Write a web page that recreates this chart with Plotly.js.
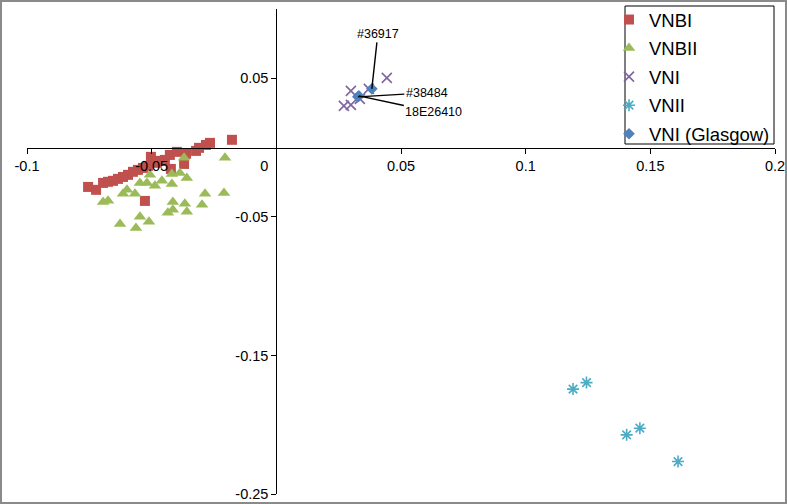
<!DOCTYPE html>
<html>
<head>
<meta charset="utf-8">
<script src="https://cdn.plot.ly/plotly-3.0.1.min.js"></script>
<style>
  html, body { margin: 0; padding: 0; background: #fff; }
  #chart { width: 787px; height: 504px; }
</style>
</head>
<body>
<div id="chart"></div>
<script>
// ---- Data ----
const vnbiX = [-0.0755, -0.0723, -0.0695, -0.0675, -0.0655, -0.0635, -0.0615, -0.0595, -0.0575, -0.0555, -0.0535, -0.0515, -0.0503, -0.0479, -0.0467, -0.0447, -0.0427, -0.0423, -0.0399, -0.0370, -0.0362, -0.0322, -0.0310, -0.0282, -0.0266, -0.0178, -0.0527];
const vnbiY = [-0.0284, -0.0305, -0.0255, -0.0247, -0.0240, -0.0226, -0.0212, -0.0197, -0.0175, -0.0161, -0.0147, -0.0132, -0.0067, -0.0110, -0.0096, -0.0089, -0.0053, -0.0154, -0.0031, -0.0118, -0.0045, -0.0024, -0.0002, 0.0019, 0.0034, 0.0056, -0.0385];

const vnbiiX = [-0.0370, -0.0206, -0.0507, -0.0419, -0.0387, -0.0359, -0.0547, -0.0519, -0.0487, -0.0459, -0.0419, -0.0599, -0.0615, -0.0567, -0.0675, -0.0695, -0.0415, -0.0367, -0.0286, -0.0298, -0.0210, -0.0415, -0.0435, -0.0359, -0.0547, -0.0511, -0.0627, -0.0563];
const vnbiiY = [-0.0074, -0.0074, -0.0197, -0.0190, -0.0183, -0.0219, -0.0255, -0.0255, -0.0276, -0.0240, -0.0262, -0.0305, -0.0334, -0.0334, -0.0384, -0.0392, -0.0392, -0.0406, -0.0334, -0.0413, -0.0327, -0.0449, -0.0471, -0.0464, -0.0500, -0.0536, -0.0551, -0.0580];

const vniX = [0.0443, 0.0299, 0.0371, 0.0271, 0.0299, 0.0335];
const vniY = [0.0503, 0.0409, 0.0424, 0.0301, 0.0308, 0.0351];

const vniiX = [0.1190, 0.1244, 0.1405, 0.1458, 0.1611];
const vniiY = [-0.1743, -0.1696, -0.2073, -0.2025, -0.2266];

const glasgowX = [0.0383, 0.0327, 0.0331];
const glasgowY = [0.0424, 0.0366, 0.0373];
const glasgowLabels = ["#36917", "#38484", "18E26410"];

const seriesNames = ["VNBI", "VNBII", "VNI", "VNII", "VNI (Glasgow)"];

const xTickVals = [-0.1, -0.05, 0, 0.05, 0.1, 0.15, 0.2];
const xTickText = ["-0.1", "-0.05", "0\u00a0\u00a0\u00a0\u00a0\u00a0\u00a0", "0.05", "0.1", "0.15", "0.2"];
const yTickVals = [0.05, -0.05, -0.15, -0.25];
const yTickText = ["0.05", "-0.05", "-0.15", "-0.25"];

const xRange = [-0.1, 0.2];
const yRange = [-0.25, 0.1];

// ---- Layout constants ----
const W = 787, H = 504;
const M = { l: 27, r: 12, t: 9, b: 10, pad: 0, autoexpand: false };
const plotW = W - M.l - M.r, plotH = H - M.t - M.b;
const FONT = '"Liberation Sans", Arial, sans-serif';
// pixel -> paper helpers (layout only)
const px2x = p => (p - M.l) / plotW;
const py2y = p => (H - M.b - p) / plotH;

const traces = [
  { x: vnbiX, y: vnbiY, name: seriesNames[0], type: 'scatter', mode: 'markers', legendgroup: 'a',
    marker: { symbol: 'square', size: 10, color: '#C0504D' } },
  { x: vnbiiX, y: vnbiiY, name: seriesNames[1], type: 'scatter', mode: 'markers', legendgroup: 'b',
    marker: { symbol: 'triangle-up', size: 11, color: '#9BBB59' } },
  { x: vniX, y: vniY, name: seriesNames[2], type: 'scatter', mode: 'markers', legendgroup: 'c',
    marker: { symbol: 'x-thin-open', size: 10, color: '#8064A2', line: { color: '#8064A2', width: 1.6 } } },
  { x: vniiX, y: vniiY, name: seriesNames[3], type: 'scatter', mode: 'markers', legendgroup: 'd',
    marker: { symbol: 'asterisk-open', size: 10, color: '#4BACC6', line: { color: '#4BACC6', width: 1.6 } } },
  { x: glasgowX, y: glasgowY, name: seriesNames[4], type: 'scatter', mode: 'markers', legendgroup: 'e',
    marker: { symbol: 'diamond', size: 9, color: '#4F81BD' } }
];

// label offsets (pixels) for the callouts
const annOffsets = [[6, -55], [69, -4], [75, 16]];
const annotations = glasgowLabels.map((t, i) => ({
  x: glasgowX[i], y: glasgowY[i], xref: 'x', yref: 'y',
  text: t, showarrow: true, arrowhead: 0, arrowwidth: 1.4, arrowcolor: '#000',
  ax: annOffsets[i][0], ay: annOffsets[i][1],
  font: { family: FONT, size: 12.5, color: '#000' }
}));

const layout = {
  width: W, height: H,
  margin: M,
  paper_bgcolor: '#fff', plot_bgcolor: '#fff',
  font: { family: FONT, size: 14, color: '#000' },
  showlegend: true,
  legend: {
    x: px2x(609), y: py2y(1), xanchor: 'left', yanchor: 'top',
    borderwidth: 0, bgcolor: 'rgba(0,0,0,0)',
    font: { family: FONT, size: 18.5, color: '#000' },
    tracegroupgap: 1.5
  },
  xaxis: {
    range: xRange, anchor: 'free',
    position: (0 - yRange[0]) / (yRange[1] - yRange[0]),
    showgrid: false, zeroline: false, showline: true, linecolor: '#000', linewidth: 1,
    ticks: 'outside', ticklen: 5, tickcolor: '#000', tickwidth: 1,
    tickmode: 'array', tickvals: xTickVals, ticktext: xTickText,
    tickfont: { family: FONT, size: 14.5, color: '#000' }
  },
  yaxis: {
    range: yRange, anchor: 'free',
    position: (0 - xRange[0]) / (xRange[1] - xRange[0]),
    showgrid: false, zeroline: false, showline: true, linecolor: '#000', linewidth: 1,
    ticks: 'outside', ticklen: 5, tickcolor: '#000', tickwidth: 1,
    tickmode: 'array', tickvals: yTickVals, ticktext: yTickText,
    tickfont: { family: FONT, size: 14.5, color: '#000' }
  },
  annotations: annotations,
  shapes: [
    { // outer chart border
      type: 'rect', xref: 'paper', yref: 'paper',
      x0: px2x(1), x1: px2x(W - 1), y0: py2y(H - 1), y1: py2y(1),
      line: { color: '#8a8a8a', width: 2 }, fillcolor: 'rgba(0,0,0,0)', layer: 'above'
    },
    { // legend frame
      type: 'rect', xref: 'paper', yref: 'paper',
      x0: px2x(625), x1: px2x(774), y0: py2y(144), y1: py2y(6),
      line: { color: '#000', width: 1 }, fillcolor: '#fff', layer: 'above'
    }
  ]
};

Plotly.newPlot('chart', traces, layout, { displayModeBar: false, staticPlot: true });
</script>
</body>
</html>
